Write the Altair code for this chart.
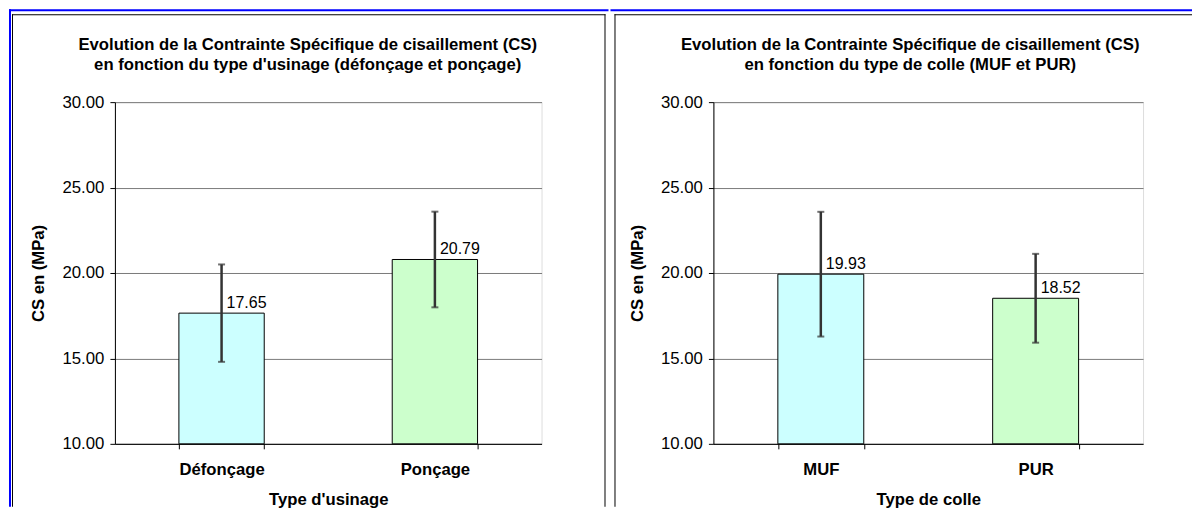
import altair as alt
import pandas as pd

# ---- data ----
CATS_L = ["Défonçage", "Ponçage"]
VALS_L = [17.65, 20.79]
ERRS_L = [2.85, 2.80]

CATS_R = ["MUF", "PUR"]
VALS_R = [19.93, 18.52]
ERRS_R = [3.65, 2.60]

FILLS = ["#CCFFFF", "#CCFFCC"]
BASE = 10
Y_TICKS = [10, 15, 20, 25, 30]

TITLE_L = ["Evolution de la Contrainte Spécifique de cisaillement (CS)",
           "en fonction du type d'usinage (défonçage et ponçage)"]
TITLE_R = ["Evolution de la Contrainte Spécifique de cisaillement (CS)",
           "en fonction du type de colle (MUF et PUR)"]
XTITLE_L = "Type d'usinage"
XTITLE_R = "Type de colle"
YTITLE = "CS en (MPa)"

FONT = "Liberation Sans"
H = 342
FS_BOLD = 16.7
FS_NUM = 16
FS_YLAB = 16.8


def frame_rect(x1, x2, y1, y2, color):
    return alt.Chart(pd.DataFrame({"k": [0]})).mark_rect(color=color).encode(
        x=alt.value(x1), x2=alt.value(x2), y=alt.value(y1), y2=alt.value(y2))


def panel(cats, vals, errs, title, xtitle, width, title_x, frames):
    df = pd.DataFrame({
        "cat": cats,
        "val": vals,
        "lo": [v - e for v, e in zip(vals, errs)],
        "hi": [v + e for v, e in zip(vals, errs)],
        "base": [BASE] * len(cats),
        "fill": FILLS,
        "lbl": [f"{v:.2f}" for v in vals],
    })
    xscale = alt.Scale(paddingInner=0.6, paddingOuter=0.3)
    xaxis = alt.Axis(title=xtitle, labelAngle=0, tickBand="extent", grid=False,
                     labelFontWeight="bold", labelFontSize=FS_BOLD, labelPadding=13,
                     titleFontSize=FS_BOLD, titleFontWeight="bold", titlePadding=13,
                     tickSize=5, domainColor="black", tickColor="black",
                     labelColor="black", titleColor="black", labelFont=FONT, titleFont=FONT)
    yscale = alt.Scale(domain=[10, 30], nice=False, zero=False)
    yaxis = alt.Axis(title=YTITLE, values=Y_TICKS, format=".2f", grid=True,
                     gridColor="#7a7a7a", gridWidth=1, tickSize=5, labelPadding=6,
                     labelFontSize=FS_YLAB, titleFontSize=FS_BOLD, titleFontWeight="bold",
                     titlePadding=14, domainColor="black", tickColor="black",
                     labelColor="black", titleColor="black", labelFont=FONT, titleFont=FONT)
    x = alt.X("cat:N", sort=cats, scale=xscale, axis=xaxis)

    base = alt.Chart(df)
    bars = base.mark_bar(stroke="black", strokeWidth=1).encode(
        x=x,
        y=alt.Y("val:Q", scale=yscale, axis=yaxis),
        y2=alt.Y2("base:Q"),
        color=alt.Color("fill:N", scale=None, legend=None),
    )
    err = base.mark_rule(color="#333333", strokeWidth=2.5).encode(
        x=x,
        y=alt.Y("lo:Q", scale=yscale, axis=yaxis),
        y2=alt.Y2("hi:Q"),
    )
    cap_lo = base.mark_tick(color="#333333", size=7, thickness=2).encode(
        x=x, y=alt.Y("lo:Q", scale=yscale, axis=yaxis))
    cap_hi = base.mark_tick(color="#333333", size=7, thickness=2).encode(
        x=x, y=alt.Y("hi:Q", scale=yscale, axis=yaxis))
    labels = base.mark_text(align="left", baseline="alphabetic", dx=5, dy=-5,
                            fontSize=FS_NUM, font=FONT, color="black").encode(
        x=x, y=alt.Y("val:Q", scale=yscale, axis=yaxis), text="lbl:N")
    ttl = alt.Chart(pd.DataFrame({"k": [0]})).mark_text(
        text=title, lineBreak="\n", fontSize=FS_BOLD, fontWeight="bold", font=FONT,
        align="center", baseline="middle", lineHeight=20, color="black").encode(
        x=alt.value(title_x), y=alt.value(-57))

    layers = [frame_rect(*f) for f in frames] + [bars, err, cap_lo, cap_hi, labels, ttl]
    return alt.layer(*layers).properties(width=width, height=H)


BLUE = "#0000ff"
WL, WR = 427, 430
frames_l = [
    (-106, 494, -93, -91, BLUE),     # blue top line
    (-106, -104, -93, 405, BLUE),    # blue left line
    (-103, 491, -88, -87, "black"),  # panel top border
    (-103, -102, -88, 405, "black"),  # panel left border
    (490, 491, -88, 405, "black"),   # panel right border
]
frames_r = [
    (-103, 479, -93, -91, BLUE),
    (-99, 479, -88, -87, "black"),
    (-99, -98, -88, 405, "black"),
]

left = panel(CATS_L, VALS_L, ERRS_L, TITLE_L, XTITLE_L, WL, 193, frames_l)
right = panel(CATS_R, VALS_R, ERRS_R, TITLE_R, XTITLE_R, WR, 197, frames_r)

chart = alt.hconcat(left, right, spacing=0).properties(padding=0).configure_view(
    stroke="#a6a6a6", strokeWidth=1
).configure(font=FONT)

chart.save("out.html", embed_options={"renderer": "svg", "actions": False})
